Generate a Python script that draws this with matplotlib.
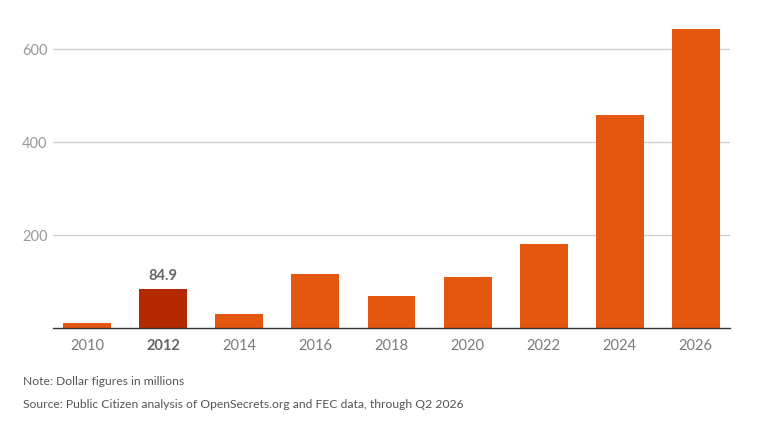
import matplotlib.pyplot as plt
import numpy as np

# ----------------------------------------------------------------------
#   Data (dollar figures in millions)
# ----------------------------------------------------------------------
years = ['2010', '2012', '2014', '2016', '2018', '2020', '2022', '2024', '2026']
spending = [12, 84.9, 31, 117, 70, 110, 181, 459, 644]
highlight_year = '2012'
y_ticks = [200, 400, 600]

note_text = 'Note: Dollar figures in millions'
source_text = 'Source: Public Citizen analysis of OpenSecrets.org and FEC data, through Q2 2026'


def main():
    plt.rcParams['font.family'] = ['Lato', 'DejaVu Sans']

    fig = plt.figure(figsize=(7.84, 4.23), dpi=100)
    W, H = 784, 423
    # axes box in pixels: left 53, right 730, bottom 328, top 20
    ax = fig.add_axes([53 / W, (H - 328.3) / H, (730 - 53) / W, (328.3 - 20) / H])

    orange = '#E5560F'
    dark = '#B52900'
    x = np.arange(len(years))
    colors = [dark if y == highlight_year else orange for y in years]
    ax.bar(x, spending, width=0.63, color=colors, zorder=2)

    ax.set_xlim(-0.45, len(years) - 0.55)
    ax.set_ylim(0, (328.3 - 20) / 0.465)

    ax.set_yticks(y_ticks)
    ax.set_yticklabels([str(v) for v in y_ticks])
    ax.grid(axis='y', color='#cccccc', linewidth=0.9, zorder=0)
    ax.tick_params(axis='y', length=0, pad=4, labelsize=10.5, labelcolor='#9a9a9a')

    ax.set_xticks(x)
    ax.set_xticklabels(years)
    ax.tick_params(axis='x', length=0, pad=8, labelsize=10.5, labelcolor='#7a7a7a')
    for lbl in ax.get_xticklabels():
        if lbl.get_text() == highlight_year:
            lbl.set_fontweight('bold')
            lbl.set_color('#666666')

    for s in ['top', 'right', 'left']:
        ax.spines[s].set_visible(False)
    ax.spines['bottom'].set_color('#333333')
    ax.spines['bottom'].set_linewidth(1.0)
    ax.spines['bottom'].set_zorder(3)

    # value label on the highlighted bar
    i = years.index(highlight_year)
    ax.annotate(f'{spending[i]:.1f}', (x[i], spending[i]), xytext=(0, 4),
                textcoords='offset points', ha='center', va='bottom',
                fontsize=10.5, fontweight='bold', color='#666666')

    fig.text(23 / W, 1 - 381.7 / H, note_text, fontsize=8.7, color='#555555', va='center')
    fig.text(23 / W, 1 - 404 / H, source_text, fontsize=8.7, color='#555555', va='center')

    fig.savefig('out.png', dpi=100)


if __name__ == '__main__':
    main()
